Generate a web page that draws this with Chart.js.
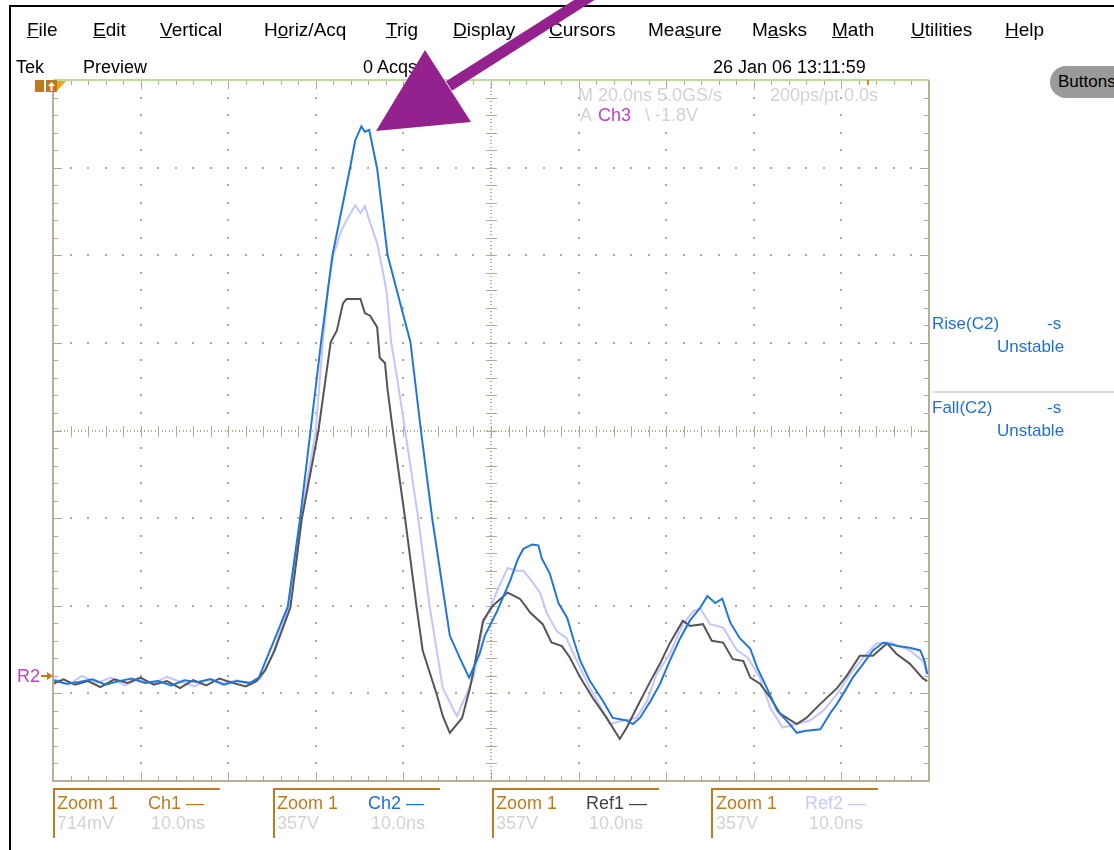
<!DOCTYPE html>
<html>
<head>
<meta charset="utf-8">
<script src="https://cdn.jsdelivr.net/npm/chart.js@4.4.1/dist/chart.umd.min.js"></script>
<style>
  html, body { margin: 0; padding: 0; background: #fff; overflow: hidden; }
  #page { position: relative; width: 1114px; height: 850px; font-family: "Liberation Sans", Arial, sans-serif; }
  #wrap { position: absolute; left: 0; top: 0; width: 1114px; height: 850px; }
  .t { position: absolute; white-space: pre; line-height: 20px; font-size: 18px; }
  .menu { font-size: 19px; color: #000; top: 20px; }
  .dim { color: #d2d2d2; }
  .org { color: #c07a1e; }
  .meas { color: #1f6fd6; font-size: 17px; }
  svg { position: absolute; left: 0; top: 0; }
</style>
</head>
<body>
<div id="page">
  <div id="wrap"><canvas id="scope"></canvas></div>

  <!-- window frame -->
  <div style="position:absolute;left:9px;top:5px;width:2px;height:845px;background:#000"></div>
  <div style="position:absolute;left:9px;top:5px;width:1105px;height:2px;background:#000"></div>

  <!-- menu -->
  <div class="t menu" style="left:27px"><u>F</u>ile</div>
  <div class="t menu" style="left:93px"><u>E</u>dit</div>
  <div class="t menu" style="left:160px"><u>V</u>ertical</div>
  <div class="t menu" style="left:264px">H<u>o</u>riz/Acq</div>
  <div class="t menu" style="left:386px"><u>T</u>rig</div>
  <div class="t menu" style="left:453px"><u>D</u>isplay</div>
  <div class="t menu" style="left:549px"><u>C</u>ursors</div>
  <div class="t menu" style="left:648px">Mea<u>s</u>ure</div>
  <div class="t menu" style="left:752px">M<u>a</u>sks</div>
  <div class="t menu" style="left:832px"><u>M</u>ath</div>
  <div class="t menu" style="left:911px"><u>U</u>tilities</div>
  <div class="t menu" style="left:1005px"><u>H</u>elp</div>

  <!-- status row -->
  <div class="t" style="left:16px;top:57px">Tek</div>
  <div class="t" style="left:83px;top:57px">Preview</div>
  <div class="t" style="left:363px;top:57px">0 Acqs</div>
  <div class="t" style="left:713px;top:57px">26 Jan 06 13:11:59</div>
  <div style="position:absolute;left:1050px;top:66px;width:90px;height:32px;border-radius:16px;background:#9a9a9a"></div>
  <div class="t" style="left:1058px;top:72px;font-size:17px">Buttons</div>

  <!-- acquisition readout -->
  <div class="t dim" style="left:578px;top:85px">M 20.0ns 5.0GS/s</div>
  <div class="t dim" style="left:770px;top:85px">200ps/pt 0.0s</div>
  <div class="t dim" style="left:580px;top:105px">A</div>
  <div class="t" style="left:598px;top:105px;color:#c042c8">Ch3</div>
  <div class="t dim" style="left:645px;top:105px">\ -1.8V</div>

  <!-- measurements -->
  <div class="t meas" style="left:932px;top:314px">Rise(C2)</div>
  <div class="t meas" style="left:1047px;top:314px">-s</div>
  <div class="t meas" style="left:997px;top:337px">Unstable</div>
  <div style="position:absolute;left:933px;top:391px;width:181px;height:2px;background:#dcdcdc"></div>
  <div class="t meas" style="left:932px;top:398px">Fall(C2)</div>
  <div class="t meas" style="left:1047px;top:398px">-s</div>
  <div class="t meas" style="left:997px;top:421px">Unstable</div>

  <!-- reference marker -->
  <div class="t" style="left:17px;top:666px;color:#c042c8">R2</div>

  <!-- zoom readouts -->
  <div class="t org" style="left:57px;top:793px">Zoom 1</div>
  <div class="t org" style="left:148px;top:793px">Ch1 —</div>
  <div class="t dim" style="left:57px;top:813px">714mV</div>
  <div class="t dim" style="left:151px;top:813px">10.0ns</div>

  <div class="t org" style="left:277px;top:793px">Zoom 1</div>
  <div class="t" style="left:368px;top:793px;color:#1f6fd6">Ch2 —</div>
  <div class="t dim" style="left:277px;top:813px">357V</div>
  <div class="t dim" style="left:371px;top:813px">10.0ns</div>

  <div class="t org" style="left:496px;top:793px">Zoom 1</div>
  <div class="t" style="left:586px;top:793px;color:#444">Ref1 —</div>
  <div class="t dim" style="left:496px;top:813px">357V</div>
  <div class="t dim" style="left:589px;top:813px">10.0ns</div>

  <div class="t org" style="left:716px;top:793px">Zoom 1</div>
  <div class="t" style="left:805px;top:793px;color:#c8c8ff">Ref2 —</div>
  <div class="t dim" style="left:716px;top:813px">357V</div>
  <div class="t dim" style="left:809px;top:813px">10.0ns</div>

  <svg width="1114" height="850">
    <!-- bottom brackets -->
    <g stroke="#c07a1e" stroke-width="2" fill="none">
      <polyline points="54,838 54,789 220,789"/>
      <polyline points="274,838 274,789 440,789"/>
      <polyline points="493,838 493,789 659,789"/>
      <polyline points="712,838 712,789 878,789"/>
    </g>
    <!-- top-left channel marker -->
    <rect x="35" y="80" width="9" height="12" fill="#c07a1e"/>
    <rect x="46" y="80" width="11" height="12" fill="#c07a1e"/>
    <path d="M51.5 82 L48 86 L55 86 Z M50.5 86 h2 v5 h-2 Z" fill="#fff"/>
    <path d="M57 81 L66 81 L57 91 Z" fill="#f0a020"/>
    <!-- trigger position tick -->
    <rect x="867" y="80" width="2" height="5" fill="#e08a20"/>
    <!-- R2 arrow -->
    <path d="M41 676 H50" stroke="#c07a1e" stroke-width="2"/>
    <path d="M47 672 L53 676 L47 680 Z" fill="#c07a1e"/>
    <!-- purple annotation arrow -->
    <line x1="449" y1="86" x2="600" y2="-10" stroke="#93218e" stroke-width="11"/>
    <polygon points="376,131 471,122 425,50" fill="#93218e"/>
  </svg>
</div>

<script>
// time axis in ns (10 ns / div), amplitude in divisions (8 div screen)
const xMin = 0, xMax = 100, xDiv = 10;
const yMin = -4, yMax = 4;

const ch2Time = [0, 1.5, 3, 4.5, 6, 7.5, 9, 10.5, 12, 13.5, 15, 16.5, 18, 19.5, 21, 22.5, 23.5,
  25.1, 26.8, 28.2, 29.4, 30.6, 31.9, 33.9, 34.5, 35.2, 35.6, 36.1, 37.0, 38.2, 40.8, 42.0, 43.3,
  44.8, 45.3, 46.5, 47.5, 48.7, 49.3, 50.7, 52.2, 53.1, 53.7, 54.7, 55.4, 55.8, 56.7, 57.7, 58.7,
  59.4, 60.2, 61.3, 62.8, 63.9, 65.5, 66.2, 67.0, 68.2, 69.3, 70.4, 71.6, 72.7, 73.9, 74.7, 75.6,
  76.4, 77.3, 78.4, 79.6, 80.4, 81.5, 82.7, 84.1, 84.9, 85.8, 87.6, 88.7, 89.5, 90.6, 91.3, 92.5,
  93.6, 94.8, 96.4, 97.8, 99.0, 99.5, 99.8];
const ch2Div = [-2.85, -2.89, -2.87, -2.84, -2.90, -2.86, -2.83, -2.88, -2.86, -2.91, -2.85, -2.87, -2.84, -2.90, -2.86, -2.88, -2.82,
  -2.43, -2.01, -1.01, 0.00, 1.01, 2.00, 2.99, 3.31, 3.47, 3.41, 3.43, 2.99, 2.00, 1.01, 0.00, -1.01,
  -2.01, -2.34, -2.61, -2.82, -2.55, -2.34, -2.06, -1.71, -1.46, -1.35, -1.30, -1.31, -1.46, -1.63, -1.97, -2.14,
  -2.38, -2.63, -2.86, -3.09, -3.28, -3.31, -3.35, -3.28, -3.09, -2.89, -2.63, -2.37, -2.17, -2.02, -1.89, -1.97,
  -1.92, -2.19, -2.37, -2.49, -2.71, -2.94, -3.20, -3.35, -3.45, -3.43, -3.41, -3.23, -3.12, -2.94, -2.82, -2.66,
  -2.51, -2.42, -2.46, -2.48, -2.51, -2.63, -2.78];

const ref1Time = [0, 1.2, 2.5, 4, 5.4, 7, 8.5, 10, 11.5, 13, 14.5, 16, 17.5, 19, 20.5, 22, 23.2,
  24.2, 25.3, 27.1, 28.4, 30.3, 31.7, 32.4, 33.1, 33.5, 35.1, 35.6, 36.2, 37.0, 37.3, 37.9, 38.2, 38.8,
  40.2, 41.5, 42.2, 43.8, 44.5, 45.3, 46.7, 47.6, 49.1, 50.2, 51.9, 53.3, 54.5, 55.9, 56.9, 58.1,
  59.0, 60.2, 61.6, 63.2, 64.7, 65.5, 66.6, 68.2, 69.3, 70.4, 71.9, 72.7, 74.2, 75.2, 76.5, 77.6,
  78.8, 79.6, 80.7, 81.9, 83.0, 84.9, 86.0, 87.6, 89.5, 90.6, 92.1, 93.6, 95.2, 96.3, 97.8, 99.3, 99.8];
const ref1Div = [-2.89, -2.84, -2.90, -2.86, -2.93, -2.84, -2.88, -2.82, -2.90, -2.86, -2.94, -2.85, -2.91, -2.83, -2.88, -2.92, -2.86,
  -2.74, -2.51, -2.02, -1.01, 0.00, 1.01, 1.14, 1.45, 1.50, 1.50, 1.34, 1.31, 1.18, 0.83, 0.77, 0.46, 0.00,
  -1.01, -2.01, -2.51, -3.01, -3.26, -3.45, -3.28, -2.94, -2.17, -2.00, -1.85, -1.92, -2.08, -2.21, -2.42, -2.46,
  -2.59, -2.82, -3.05, -3.28, -3.52, -3.39, -3.17, -2.86, -2.66, -2.43, -2.17, -2.23, -2.21, -2.40, -2.42, -2.61,
  -2.63, -2.82, -2.89, -3.05, -3.23, -3.35, -3.28, -3.12, -2.94, -2.80, -2.57, -2.57, -2.43, -2.55, -2.66, -2.83, -2.86];

const ref2Time = [0, 1.8, 3.3, 5, 6.6, 8.2, 9.8, 11.4, 13, 14.6, 16.2, 17.8, 19.4, 21, 22.6, 23.6,
  25.0, 26.9, 28.3, 30.0, 30.8, 31.1, 31.4, 32.0, 32.8, 33.5, 34.5, 35.1, 35.6, 36.2, 37.0, 37.7, 38.1,
  38.6, 39.2, 40.2, 41.7, 43.0, 44.5, 46.1, 47.2, 48.0, 49.1, 50.7, 51.9, 52.9, 53.7, 54.8, 55.6,
  56.4, 57.5, 58.6, 59.8, 61.3, 63.6, 65.1, 66.6, 67.8, 68.9, 70.4, 71.9, 73.1, 73.9, 75.0, 76.5,
  78.1, 79.3, 80.7, 81.9, 83.3, 84.9, 86.4, 87.9, 89.5, 91.0, 92.5, 94.0, 95.6, 97.8, 99.3, 99.8];
const ref2Div = [-2.83, -2.90, -2.80, -2.88, -2.82, -2.91, -2.84, -2.89, -2.81, -2.87, -2.92, -2.83, -2.88, -2.85, -2.90, -2.84,
  -2.57, -2.01, -1.01, 0.00, 1.01, 1.29, 1.63, 2.00, 2.25, 2.40, 2.57, 2.48, 2.56, 2.37, 2.14, 1.79, 1.57,
  1.01, 0.65, 0.00, -1.01, -2.01, -2.94, -3.26, -3.01, -2.82, -2.21, -1.83, -1.57, -1.60, -1.60, -1.74, -1.85,
  -2.09, -2.29, -2.37, -2.63, -2.94, -3.35, -3.31, -3.28, -3.09, -2.78, -2.55, -2.21, -2.06, -2.03, -2.21, -2.25,
  -2.51, -2.59, -2.82, -3.17, -3.39, -3.35, -3.31, -3.20, -3.01, -2.78, -2.59, -2.43, -2.42, -2.51, -2.63, -2.78];

function pts(t, v) {
    return t.map((x, i) => ({ x: x, y: v[i] }));
}

const scopeGrid = {
    id: 'scopeGrid',
    beforeDatasetsDraw(chart, args, options) {
        const { ctx, chartArea: { left, top, right, bottom }, scales: { x, y } } = chart;
        ctx.save();
        ctx.fillStyle = options.dotColor;
        const cx = Math.round(x.getPixelForValue((xMin + xMax) / 2));
        const cy = Math.round(y.getPixelForValue(0));
        // dotted division lines
        for (let i = 1; i < 10; i++) {
            if (i === 5) continue;
            const px = Math.round(x.getPixelForValue(xMin + i * xDiv));
            for (let k = 0; k <= 40; k++) {
                const py = Math.round(y.getPixelForValue(yMin + k * 0.2));
                ctx.fillRect(px - 1, py - 1, 2, 2);
            }
        }
        for (let j = 1; j < 8; j++) {
            if (j === 4) continue;
            const py = Math.round(y.getPixelForValue(yMin + j));
            for (let k = 0; k <= 50; k++) {
                const px = Math.round(x.getPixelForValue(xMin + k * 2));
                ctx.fillRect(px - 1, py - 1, 2, 2);
            }
        }
        // centre cross
        for (let p = top; p <= bottom; p += 3.5) ctx.fillRect(cx - 1, Math.round(p), 2, 1);
        for (let p = left; p <= right; p += 3.5) ctx.fillRect(Math.round(p), cy - 1, 1, 2);
        for (let k = 0; k <= 40; k++) {
            const py = Math.round(y.getPixelForValue(yMin + k * 0.2));
            ctx.fillRect(cx - 5, py, 11, 1);
        }
        for (let k = 0; k <= 50; k++) {
            const px = Math.round(x.getPixelForValue(xMin + k * 2));
            ctx.fillRect(px, cy - 5, 1, 11);
        }
        // edge ticks
        for (let k = 1; k < 40; k++) {
            const len = k % 5 === 0 ? 8 : 4;
            const py = Math.round(y.getPixelForValue(yMin + k * 0.2));
            ctx.fillRect(left + 1, py, len, 1);
            ctx.fillRect(right - 1 - len, py, len, 1);
        }
        for (let k = 1; k < 50; k++) {
            const len = k % 5 === 0 ? 8 : 4;
            const px = Math.round(x.getPixelForValue(xMin + k * 2));
            ctx.fillRect(px, top + 1, 1, len);
            ctx.fillRect(px, bottom - 1 - len, 1, len);
        }
        ctx.restore();
    },
    afterDraw(chart, args, options) {
        const { ctx, chartArea: { left, top, right, bottom } } = chart;
        ctx.save();
        ctx.lineWidth = 2;
        ctx.strokeStyle = options.borderColor;
        ctx.beginPath();
        ctx.moveTo(left, top);
        ctx.lineTo(left, bottom);
        ctx.lineTo(right, bottom);
        ctx.lineTo(right, top);
        ctx.stroke();
        ctx.strokeStyle = options.topColor;
        ctx.beginPath();
        ctx.moveTo(left, top);
        ctx.lineTo(right, top);
        ctx.stroke();
        ctx.restore();
    }
};

function drawScope() {
    var ctx = document.getElementById('scope');
    var myChart = new Chart(ctx, {
        type: 'line',
        data: {
            datasets: [{
                label: 'Ch2',
                data: pts(ch2Time, ch2Div),
                borderColor: 'rgb(34,118,214)',
                borderWidth: 2,
                pointRadius: 0,
                tension: 0
            },
            {
                label: 'Ref1',
                data: pts(ref1Time, ref1Div),
                borderColor: 'rgb(85,85,85)',
                borderWidth: 2,
                pointRadius: 0,
                tension: 0
            },
            {
                label: 'Ref2',
                data: pts(ref2Time, ref2Div),
                borderColor: 'rgb(196,196,255)',
                borderWidth: 2,
                pointRadius: 0,
                tension: 0
            }]
        },
        options: {
            responsive: true,
            maintainAspectRatio: false,
            animation: false,
            layout: {
                padding: { left: 53, top: 80, right: 185, bottom: 69 }
            },
            scales: {
                x: { type: 'linear', display: false, min: xMin, max: xMax },
                y: { type: 'linear', display: false, min: yMin, max: yMax }
            },
            plugins: {
                legend: { display: false },
                tooltip: { enabled: false },
                scopeGrid: {
                    dotColor: '#b3aa92',
                    borderColor: '#b8ae98',
                    topColor: '#bcdc9c'
                }
            }
        },
        plugins: [scopeGrid]
    });
}

drawScope();
</script>
</body>
</html>
